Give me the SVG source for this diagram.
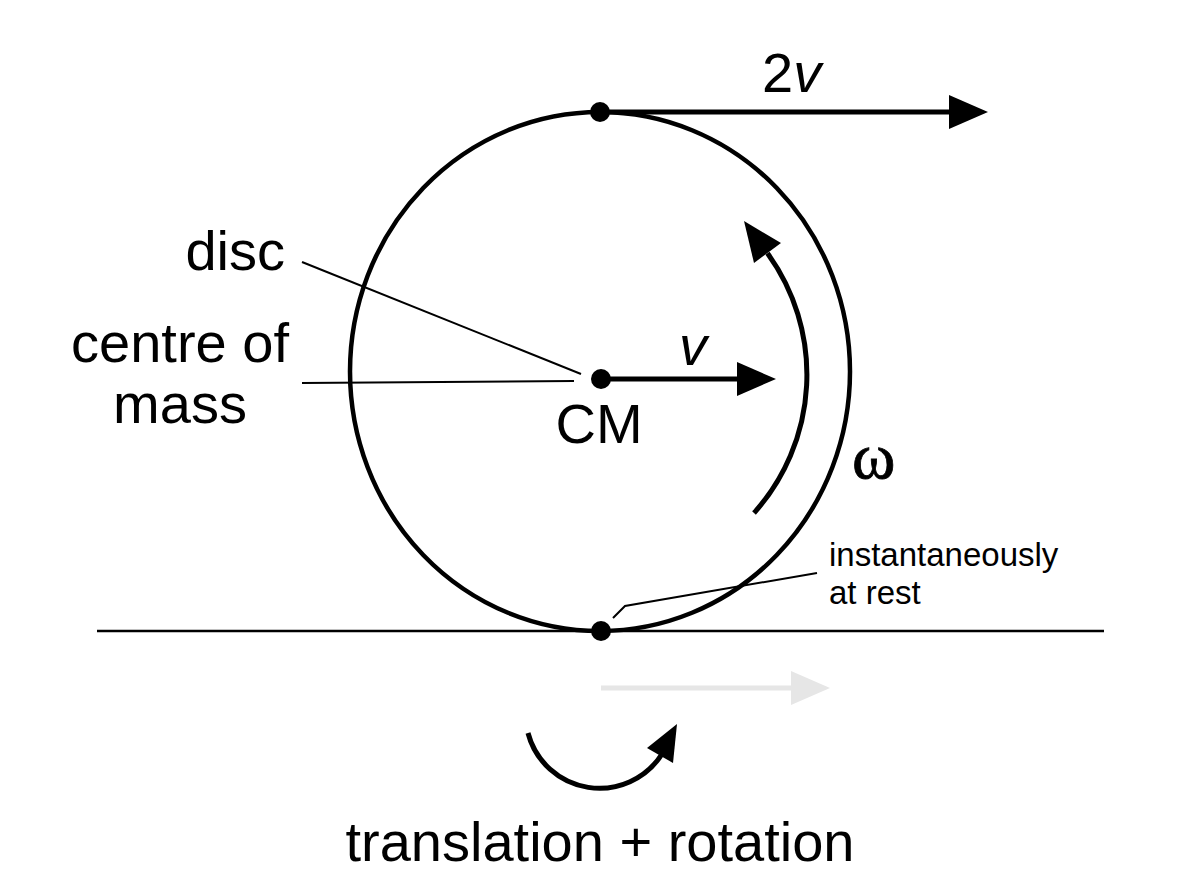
<svg xmlns="http://www.w3.org/2000/svg" width="1200" height="896" viewBox="0 0 1200 896">
  <style>
    .lbl { font-family: "Liberation Sans", Arial, sans-serif; font-size: 56px; fill: #000; }
    .small { font-family: "Liberation Sans", Arial, sans-serif; font-size: 33px; fill: #000; }
    .greek { font-family: "Liberation Serif", "Times New Roman", serif; font-size: 66px; fill: #000; stroke: #000; stroke-width: 0.8; }
    .thick { stroke: #000; stroke-width: 4.5; fill: none; }
    .arrow { stroke: #000; stroke-width: 5; fill: none; }
    .leader { stroke: #000; stroke-width: 2; fill: none; }
    .dot { fill: #000; }
  </style>
  <defs>
    <marker id="head" viewBox="0 0 39 34" refX="2" refY="17" markerWidth="39" markerHeight="34" markerUnits="userSpaceOnUse" orient="auto">
      <path d="M0,0 L39,17 L0,34 Z" fill="#000"/>
    </marker>
    <marker id="headGrey" viewBox="0 0 39 34" refX="2" refY="17" markerWidth="39" markerHeight="34" markerUnits="userSpaceOnUse" orient="auto">
      <path d="M0,0 L39,17 L0,34 Z" fill="#e6e6e6"/>
    </marker>
  </defs>

  <rect width="1200" height="896" fill="#fff"/>

  <g id="ground">
    <line x1="97" y1="631" x2="1104" y2="631" stroke="#000" stroke-width="2.5"/>
  </g>

  <g id="disc">
    <ellipse cx="600" cy="371.5" rx="250" ry="259.5" class="thick"/>
  </g>

  <g id="connectors">
    <line x1="600" y1="112" x2="951" y2="112" class="arrow" marker-end="url(#head)"/>
    <line x1="600" y1="379" x2="739" y2="379" class="arrow" marker-end="url(#head)"/>
    <line x1="601" y1="688" x2="793" y2="688" stroke="#e6e6e6" stroke-width="5" marker-end="url(#headGrey)"/>
    <path d="M754,513 A207,207 0 0 0 767.5,253.3" class="arrow" stroke-width="4.5"/>
    <polygon points="744,221 781,243 754,263" fill="#000"/>
    <path d="M528,733 A74,74 0 0 0 662,754" class="arrow" stroke-width="5.5"/>
    <polygon points="677,724 647,748 673,763" fill="#000"/>
    <line x1="302" y1="262" x2="581" y2="374" class="leader"/>
    <line x1="302" y1="383" x2="574" y2="381" class="leader"/>
    <polyline points="817,573 625,606 613,618" class="leader"/>
  </g>

  <g id="top-point">
    <circle cx="600" cy="112" r="10" class="dot"/>
    <text x="762" y="92" class="lbl">2<tspan font-style="italic">v</tspan></text>
  </g>

  <g id="cm">
    <circle cx="601" cy="379" r="10" class="dot"/>
    <text x="599" y="443" class="lbl" text-anchor="middle">CM</text>
    <text x="679" y="365" class="lbl" font-style="italic">v</text>
  </g>

  <g id="contact-point">
    <circle cx="601" cy="631" r="10" class="dot"/>
    <text x="829" y="566" class="small">instantaneously</text>
    <text x="829" y="604" class="small">at rest</text>
  </g>

  <g id="labels">
    <text x="285" y="270" class="lbl" text-anchor="end">disc</text>
    <text x="180" y="362" class="lbl" text-anchor="middle">centre of</text>
    <text x="180" y="423" class="lbl" text-anchor="middle">mass</text>
    <text x="852" y="478" class="greek">ω</text>
    <text x="600" y="861" class="lbl" text-anchor="middle" font-size="56.5">translation + rotation</text>
  </g>
</svg>
